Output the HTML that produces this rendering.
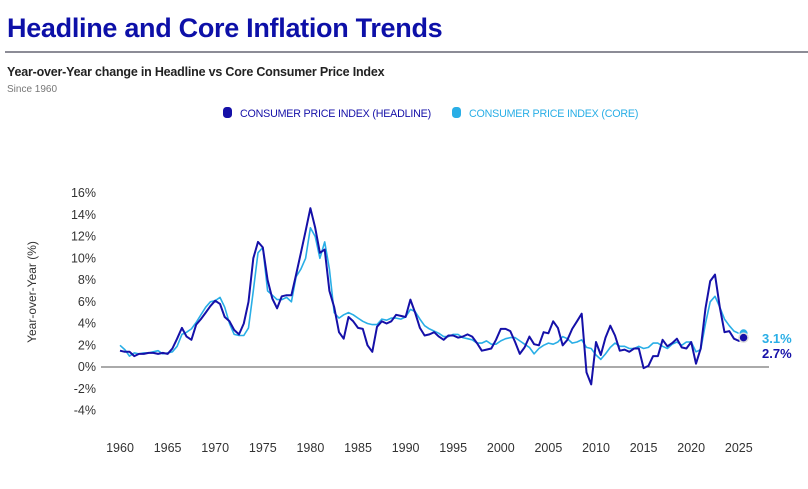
<!DOCTYPE html>
<html><head><meta charset="utf-8"><style>
body{margin:0;background:#fff;font-family:"Liberation Sans",sans-serif;}
#wrap{position:relative;width:808px;height:489px;overflow:hidden;}
</style></head><body>
<div id="wrap">
<div style="position:absolute;left:7px;top:13px;font-size:27px;font-weight:bold;color:#0d10a8;letter-spacing:-0.3px;">Headline and Core Inflation Trends</div>
<div style="position:absolute;left:5px;top:51px;width:803px;height:2px;background:#8c8c96;"></div>
<div style="position:absolute;left:7px;top:65px;font-size:12.5px;font-weight:bold;color:#222;letter-spacing:-0.2px;">Year-over-Year change in Headline vs Core Consumer Price Index</div>
<div style="position:absolute;left:7px;top:84px;font-size:10px;color:#777;">Since 1960</div>
<svg id="chart" width="808" height="489" style="position:absolute;left:0;top:0"></svg>
</div>
<script>
const years = [];
for (let y = 1960; y <= 2025.5; y += 0.5) years.push(y);
const headline = [1.5,1.4,1.4,1.0,1.2,1.2,1.3,1.3,1.2,1.3,1.2,1.7,2.6,3.6,2.8,2.5,3.9,4.4,5.0,5.6,6.1,5.8,4.6,4.2,3.4,3.0,4.0,6.0,10.0,11.5,11.0,8.0,6.3,5.4,6.5,6.6,6.6,8.5,10.5,12.5,14.6,12.8,10.5,10.8,7.0,5.5,3.2,2.6,4.6,4.2,3.6,3.5,2.0,1.4,3.7,4.2,4.0,4.2,4.8,4.7,4.6,6.2,5.0,3.6,2.9,3.0,3.2,2.8,2.5,2.9,2.9,2.7,2.8,3.0,2.8,2.2,1.5,1.6,1.7,2.5,3.5,3.5,3.3,2.3,1.2,1.8,2.8,2.1,2.0,3.2,3.1,4.2,3.6,2.0,2.5,3.5,4.2,4.9,-0.5,-1.6,2.3,1.1,2.7,3.8,2.9,1.5,1.6,1.4,1.7,1.7,-0.1,0.1,1.0,1.0,2.5,1.9,2.2,2.6,1.8,1.7,2.3,0.3,1.7,5.4,7.9,8.5,5.5,3.2,3.3,2.6,2.4,2.7];
const core = [2.0,1.6,1.0,1.3,1.2,1.3,1.3,1.4,1.5,1.2,1.3,1.4,1.9,3.0,3.2,3.5,4.1,4.8,5.5,6.0,6.1,6.4,5.5,4.0,3.0,2.9,2.9,3.6,7.0,10.5,11.0,7.0,6.6,6.2,6.2,6.4,6.0,8.3,9.0,10.0,12.8,12.0,10.0,11.5,9.0,5.0,4.5,4.8,5.0,4.8,4.5,4.2,4.0,3.9,3.9,4.4,4.3,4.5,4.5,4.4,4.6,5.3,5.1,4.4,3.8,3.5,3.3,3.1,2.8,2.8,3.0,3.0,2.7,2.6,2.5,2.2,2.2,2.4,2.1,2.1,2.4,2.6,2.7,2.7,2.4,2.1,1.8,1.2,1.7,2.0,2.2,2.1,2.3,2.8,2.6,2.2,2.3,2.5,1.8,1.7,1.1,0.7,1.2,1.8,2.2,1.9,1.9,1.7,1.7,1.9,1.7,1.8,2.2,2.2,1.9,1.7,2.1,2.3,2.0,2.3,2.3,1.4,1.6,4.0,6.0,6.5,5.5,4.4,3.8,3.3,3.1,3.1];
const yTicks = [16,14,12,10,8,6,4,2,0,-2,-4];
const xTicks = [1960,1965,1970,1975,1980,1985,1990,1995,2000,2005,2010,2015,2020,2025];
const seriesNames = ["CONSUMER PRICE INDEX (HEADLINE)","CONSUMER PRICE INDEX (CORE)"];

const NS = "http://www.w3.org/2000/svg";
const svg = document.getElementById('chart');
const X = y => 120 + (y - 1960) * 9.52;
const Y = v => 367 - v * 10.875;
function mk(tag, attrs, parent){const e=document.createElementNS(NS,tag);for(const k in attrs)e.setAttribute(k,attrs[k]);(parent||svg).appendChild(e);return e;}

yTicks.forEach(t=>{
  const e = mk('text',{x:96,y:Y(t)+4,'text-anchor':'end','font-size':12.5,fill:'#333','font-family':'Liberation Sans, sans-serif'});
  
  
  e.textContent = t + '%';
});
xTicks.forEach(t=>{
  const e = mk('text',{x:X(t),y:452,'text-anchor':'middle','font-size':12.5,fill:'#333','font-family':'Liberation Sans, sans-serif'});
  
  
  e.textContent = t;
});
const yt = mk('text',{x:0,y:0,transform:'translate(36,292) rotate(-90)','text-anchor':'middle','font-size':12,fill:'#333','font-family':'Liberation Sans, sans-serif'});


yt.textContent='Year-over-Year (%)';

const zl = mk('line',{x1:101,x2:769,y1:Y(0),y2:Y(0),stroke:'#555','stroke-width':1});



function line(vals,color,w,name){
  const d = vals.map((v,i)=>(i?'L':'M')+X(years[i]).toFixed(1)+','+Y(v).toFixed(1)).join('');
  const p = mk('path',{d:d,fill:'none',stroke:color,'stroke-width':w,'stroke-linejoin':'round'});
  
  
}
line(core,'#29aee6',1.6,'core-cpi-line');
line(headline,'#1510a8',2,'headline-cpi-line');

const lastX = X(years[years.length-1]);
const cd = mk('circle',{cx:lastX,cy:Y(core[core.length-1]),r:4.5,fill:'#29aee6',stroke:'#fff','stroke-width':1});


const hd = mk('circle',{cx:lastX,cy:Y(headline[headline.length-1]),r:4.5,fill:'#1510a8',stroke:'#ddd','stroke-width':1.5});


const cl = mk('text',{x:762,y:343,'font-size':13,'font-weight':'bold',fill:'#29aee6','font-family':'Liberation Sans, sans-serif'});


cl.textContent = core[core.length-1].toFixed(1)+'%';
const hl = mk('text',{x:762,y:358,'font-size':13,'font-weight':'bold',fill:'#1510a8','font-family':'Liberation Sans, sans-serif'});


hl.textContent = headline[headline.length-1].toFixed(1)+'%';

const legX = [223, 452], legC = ['#1510a8','#29aee6'];
seriesNames.forEach((n,i)=>{
  const g = mk('g',{});
  
  
  mk('rect',{x:legX[i],y:107,width:9,height:11,rx:3.5,fill:legC[i]},g);
  const t = mk('text',{x:legX[i]+17,y:117,'font-size':10.7,fill:legC[i],'font-family':'Liberation Sans, sans-serif','letter-spacing':'-0.2'},g);
  t.textContent = n;
});
</script>
</body></html>
